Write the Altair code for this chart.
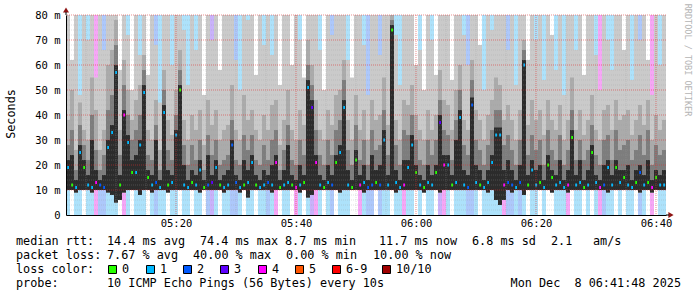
import altair as alt
import pandas as pd

# ---- data: one entry per 40 s column, 05:01:40 .. 06:41:40 ----
med = [19, 12, 11, 25, 19, 12, 11, 13, 12, 11,
       27, 33, 57, 12, 40, 29, 17, 17, 28, 49,
       15, 12, 13, 11, 41, 12, 13, 32, 50, 12,
       11, 13, 12, 18, 11, 12, 13, 19, 12, 11,
       12, 28, 13, 11, 12, 13, 21, 12, 11, 12,
       13, 12, 21, 11, 12, 13, 12, 11, 12, 13,
       51, 43, 21, 12, 11, 13, 12, 21, 25, 43,
       12, 11, 22, 12, 13, 11, 12, 13, 12, 30,
       12, 74, 13, 11, 12, 19, 28, 17, 12, 11,
       13, 12, 17, 37, 20, 20, 12, 13, 39, 12,
       11, 44, 13, 12, 11, 13, 21, 32, 32, 12,
       13, 12, 11, 13, 60, 12, 18, 12, 13, 11,
       20, 15, 12, 13, 11, 12, 31, 12, 13, 11,
       12, 25, 13, 11, 12, 19, 12, 19, 13, 15,
       12, 11, 13, 17, 12, 13, 11, 15, 12, 12]

loss = [1, 0, 1, 1, 0, 1, 1, 4, 2, 2,
        1, 1, 1, 0, 4, 1, 0, 1, 1, 1,
        0, 1, 2, 1, 1, 0, 1, 1, 0, 1,
        1, 0, 1, 1, 0, 2, 3, 1, 0, 1,
        1, 2, 2, 1, 0, 1, 1, 0, 1, 1,
        2, 1, 4, 0, 1, 1, 0, 4, 1, 0,
        1, 3, 4, 1, 0, 1, 2, 0, 1, 1,
        1, 0, 0, 4, 1, 2, 2, 0, 2, 1,
        1, 0, 1, 1, 4, 1, 1, 0, 1, 0,
        1, 1, 0, 3, 4, 1, 0, 1, 1, 1,
        2, 2, 1, 0, 1, 1, 1, 1, 1, 4,
        2, 2, 1, 2, 1, 0, 1, 1, 0, 1,
        0, 0, 1, 1, 1, 4, 0, 1, 1, 0,
        1, 0, 1, 4, 2, 1, 1, 0, 1, 0,
        1, 1, 0, 2, 1, 0, 4, 0, 1, 1]

lo = [10, 10, 9, 10, 10, 10, 9, 10, 10, 10,
      9, 8, 5, 6, 9, 10, 10, 10, 8, 10,
      10, 9, 10, 10, 10, 9, 10, 10, 10, 10,
      10, 10, 10, 9, 10, 10, 10, 10, 10, 9,
      10, 10, 10, 9, 10, 7, 10, 10, 10, 10,
      10, 9, 10, 10, 10, 10, 10, 10, 9, 10,
      7, 8, 10, 10, 10, 10, 10, 10, 9, 10,
      10, 10, 10, 10, 9, 10, 10, 10, 10, 10,
      10, 10, 9, 10, 10, 10, 10, 10, 10, 9,
      10, 10, 10, 9, 10, 10, 10, 10, 10, 10,
      10, 10, 10, 10, 10, 9, 10, 6, 4, 6,
      10, 9, 10, 10, 8, 10, 10, 10, 10, 10,
      10, 9, 10, 10, 10, 9, 10, 10, 10, 10,
      10, 10, 10, 10, 10, 9, 10, 10, 10, 10,
      10, 10, 10, 9, 10, 10, 9, 10, 10, 10]

dark = [22, 24, 14, 28, 22, 16, 30, 18, 14, 16,
        30, 36, 60, 16, 42, 32, 22, 24, 30, 52,
        18, 16, 30, 14, 44, 18, 16, 34, 52, 20,
        14, 18, 16, 22, 14, 24, 16, 22, 14, 16,
        18, 30, 16, 14, 22, 18, 24, 16, 14, 18,
        16, 20, 24, 14, 18, 28, 16, 14, 20, 16,
        54, 46, 24, 16, 14, 20, 16, 24, 28, 46,
        18, 14, 26, 16, 20, 14, 24, 18, 20, 34,
        16, 76, 18, 14, 22, 22, 32, 20, 16, 14,
        20, 16, 20, 40, 24, 24, 16, 30, 42, 18,
        16, 47, 20, 18, 14, 18, 24, 35, 35, 18,
        22, 18, 14, 20, 62, 16, 22, 18, 20, 14,
        24, 18, 16, 22, 14, 18, 34, 16, 22, 14,
        18, 28, 16, 14, 20, 22, 16, 22, 18, 18,
        20, 14, 18, 20, 16, 22, 14, 18, 16, 18]

mid2 = [28, 34, 18, 36, 28, 22, 40, 26, 18, 24,
        42, 48, 68, 24, 52, 40, 30, 34, 40, 58,
        24, 22, 36, 18, 50, 26, 22, 40, 58, 28,
        20, 28, 22, 30, 18, 32, 24, 30, 20, 22,
        24, 38, 22, 20, 32, 26, 32, 22, 20, 28,
        22, 30, 34, 18, 26, 36, 22, 20, 30, 24,
        60, 52, 34, 24, 20, 30, 24, 34, 38, 54,
        26, 20, 36, 22, 30, 20, 34, 26, 28, 42,
        24, 78, 28, 20, 34, 32, 40, 30, 22, 20,
        30, 24, 30, 46, 34, 32, 22, 38, 50, 28,
        24, 54, 30, 26, 20, 28, 34, 42, 42, 28,
        32, 26, 20, 30, 66, 24, 32, 26, 30, 20,
        34, 26, 22, 32, 20, 26, 42, 22, 30, 22,
        26, 36, 24, 20, 30, 32, 22, 34, 26, 28,
        30, 22, 26, 32, 24, 34, 20, 28, 24, 26]

mid = [38, 50, 26, 45, 34, 30, 55, 42, 26, 34,
       60, 66, 78, 34, 62, 50, 38, 46, 52, 64,
       34, 30, 46, 26, 58, 38, 32, 50, 66, 38,
       30, 40, 34, 42, 28, 46, 36, 42, 30, 34,
       36, 52, 34, 30, 48, 38, 42, 34, 30, 40,
       34, 44, 46, 28, 38, 50, 34, 30, 42, 36,
       70, 60, 46, 34, 30, 42, 36, 48, 50, 62,
       38, 30, 48, 34, 42, 30, 46, 38, 40, 55,
       36, 80, 38, 30, 46, 44, 52, 40, 34, 30,
       42, 34, 40, 58, 46, 44, 34, 50, 60, 38,
       34, 62, 42, 38, 30, 40, 46, 55, 52, 38,
       44, 38, 30, 42, 70, 36, 46, 38, 42, 32,
       46, 38, 34, 44, 30, 38, 55, 34, 42, 32,
       38, 48, 34, 30, 42, 44, 34, 46, 38, 40,
       42, 32, 38, 44, 36, 46, 30, 40, 34, 38]

high = [90, 62, 90, 48, 90, 70, 90, 55, 90, 66,
        90, 90, 90, 58, 90, 72, 50, 90, 64, 90,
        56, 90, 68, 45, 90, 90, 60, 90, 90, 74,
        52, 90, 66, 90, 48, 90, 70, 90, 58, 90,
        90, 90, 62, 50, 90, 78, 90, 56, 90, 68,
        90, 64, 90, 52, 90, 90, 60, 90, 70, 55,
        90, 90, 90, 66, 50, 90, 72, 90, 90, 90,
        62, 55, 90, 90, 68, 48, 90, 90, 64, 90,
        90, 90, 72, 52, 90, 90, 90, 60, 66, 50,
        90, 70, 56, 90, 90, 90, 54, 90, 90, 72,
        60, 90, 90, 68, 50, 90, 74, 90, 90, 90,
        66, 90, 52, 90, 90, 62, 90, 70, 90, 54,
        90, 72, 58, 90, 48, 90, 90, 66, 90, 56,
        90, 90, 64, 50, 90, 70, 58, 90, 90, 66,
        90, 54, 90, 70, 90, 62, 48, 90, 60, 90]

loss_levels = [0, 1, 2, 3, 4]
loss_colors = ["#26ff00", "#00b8ff", "#0059ff", "#5e00ff", "#ff00ff"]
loss_bg = ["#ffffff", "#ade2fb", "#adc8fb", "#c9b2fb", "#f6a6f6"]

legend_labels = ["0", "1", "2", "3", "4", "5", "6-9", "10/10"]
legend_colors = ["#26ff00", "#00b8ff", "#0059ff", "#5e00ff", "#ff00ff", "#ff5500", "#ff0000", "#a00000"]
legend_box_x = [108, 146, 183, 220, 258, 295, 332, 382]

y_ticks = [0, 10, 20, 30, 40, 50, 60, 70, 80]
x_ticks = [20, 40, 60, 80, 100]  # minutes after 05:00

MONO = "DejaVu Sans Mono"
STEP = 40 / 60
START = 100 / 60

rows = []
for i in range(len(med)):
    t = START + i * STEP
    rows.append({"t": t, "t2": t + STEP, "tm1": t + STEP * 0.3, "tm2": t + STEP * 0.75,
                 "loss": loss[i], "med": med[i], "mlo": med[i] - 0.6, "mhi": med[i] + 0.6,
                 "lo": lo[i], "dark": dark[i], "mid2": mid2[i], "mid": mid[i], "high": high[i],
                 "zero": 0, "top": 80})
df = pd.DataFrame(rows)

XS = alt.Scale(domain=[START, START + 100], nice=False, zero=False)
YS = alt.Scale(domain=[0, 80], nice=False, clamp=True)

x_axis = alt.Axis(values=x_ticks, title=None, grid=False, ticks=False, tickSize=0,
                  labelExpr="(datum.value < 60 ? '05:' : '06:') + ((datum.value % 60) < 10 ? '0' : '') + (datum.value % 60)",
                  labelFont=MONO, labelFontSize=10.5, labelColor="#000", labelPadding=11,
                  labelBaseline="alphabetic", domainColor="#000", labelFlush=False, zindex=2)
y_axis = alt.Axis(values=y_ticks, title=None, grid=False, ticks=False, tickSize=0,
                  labelExpr="datum.value == 0 ? '0\u00a0\u00a0' : datum.value + ' m'",
                  labelFont=MONO, labelFontSize=10.5, labelColor="#000", labelPadding=6,
                  domainColor="#000", labelFlush=False, zindex=2)

base = alt.Chart(df)
bg = base.mark_rect().encode(
    x=alt.X("t:Q", scale=XS, axis=x_axis), x2="t2",
    y=alt.Y("zero:Q", scale=YS, axis=y_axis), y2="top",
    color=alt.Color("loss:N", scale=alt.Scale(domain=loss_levels, range=loss_bg), legend=None))

def smoke(field, col):
    return base.mark_rect(color=col).encode(
        x=alt.X("t:Q", scale=XS, axis=x_axis), x2="t2",
        y=alt.Y("lo:Q", scale=YS, axis=y_axis), y2=field)

s_high = smoke("high", "#cacaca")
s_mid = smoke("mid", "#ababab")
s_mid2 = smoke("mid2", "#7d7d7d")
s_dark = smoke("dark", "#2c2c2c")

medm = base.mark_rect().encode(
    x=alt.X("tm1:Q", scale=XS, axis=x_axis), x2="tm2",
    y=alt.Y("mlo:Q", scale=YS, axis=y_axis), y2="mhi",
    color=alt.Color("loss:N", scale=alt.Scale(domain=loss_levels, range=loss_colors), legend=None))

minor_h = [v for v in range(2, 80, 2) if v % 10]
major_h = [10, 20, 30, 40, 50, 60, 70, 80]
minor_v = [v for v in range(5, 105, 5) if v % 20]
major_v = [20, 40, 60, 80, 100]

def hgrid(vals, col, op):
    return alt.Chart(pd.DataFrame({"v": vals})).mark_rule(color=col, opacity=op, strokeDash=[1, 1], strokeWidth=1).encode(
        y=alt.Y("v:Q", scale=YS, axis=y_axis))

def vgrid(vals, col, op):
    return alt.Chart(pd.DataFrame({"v": vals})).mark_rule(color=col, opacity=op, strokeDash=[1, 1], strokeWidth=1).encode(
        x=alt.X("v:Q", scale=XS, axis=x_axis))

grids = [hgrid(minor_h, "#9a9a9a", 0.3), vgrid(minor_v, "#9a9a9a", 0.3),
         hgrid(major_h, "#e03030", 0.55), vgrid(major_v, "#e03030", 0.55)]

one = pd.DataFrame({"k": [0]})

def label(txt, x, y, align="left", baseline="alphabetic", size=11.8, color="#000", angle=0):
    return alt.Chart(one).mark_text(align=align, baseline=baseline, font=MONO, fontSize=size,
                                    color=color, angle=angle).encode(
        x=alt.value(x - 66), y=alt.value(y - 15), text=alt.value(txt))

texts = [
    label("median rtt:", 16, 245), label("14.4 ms avg", 107, 245), label("74.4 ms max", 200, 245),
    label("8.7 ms min", 285, 245), label("11.7 ms now", 379, 245), label("6.8 ms sd", 472, 245),
    label("2.1", 551, 245), label("am/s", 593, 245),
    label("packet loss:", 16, 259), label("7.67 % avg", 107, 259), label("40.00 % max", 193, 259),
    label("0.00 % min", 286, 259), label("10.00 % now", 373, 259),
    label("loss color:", 16, 273),
    label("probe:", 16, 287), label("10 ICMP Echo Pings (56 Bytes) every 10s", 107, 287),
    label("Mon Dec\u00a0\u00a08 06:41:48 2025", 681, 287, align="right"),
    label("Seconds", 11, 114, align="center", baseline="middle", angle=270),
    label("RRDTOOL / TOBI OETIKER", 688, 60, align="center", baseline="middle", size=8.5,
          color="#b4b4b4", angle=90),
]
boxes = []
for bx, bl, bc in zip(legend_box_x, legend_labels, legend_colors):
    boxes.append(alt.Chart(one).mark_rect(fill=bc, stroke="#000", strokeWidth=1).encode(
        x=alt.value(bx - 66 + 0.5), x2=alt.value(bx - 66 + 8.5),
        y=alt.value(265 - 15 + 0.5), y2=alt.value(273 - 15 + 0.5)))
    texts.append(label(bl, bx + 14, 273))

arrows = [
    alt.Chart(one).mark_point(shape="triangle-up", filled=True, size=36, color="#8e1515", opacity=1).encode(
        x=alt.value(0), y=alt.value(-5)),
    alt.Chart(one).mark_point(shape="triangle-right", filled=True, size=36, color="#8e1515", opacity=1).encode(
        x=alt.value(605), y=alt.value(200)),
    alt.Chart(one).mark_rule(color="#000").encode(x=alt.value(600), x2=alt.value(603), y=alt.value(200)),
    alt.Chart(one).mark_rule(color="#000").encode(x=alt.value(0), y=alt.value(-3), y2=alt.value(0)),
]

chart = alt.layer(bg, s_high, s_mid, s_mid2, s_dark, medm, *grids, *boxes, *texts, *arrows).resolve_scale(
    color="independent").properties(
    width=600, height=200,
    padding={"left": 66, "top": 15, "right": 31, "bottom": 82},
    autosize=alt.AutoSizeParams(type="none"),
    background="white",
).configure_view(stroke=None)

chart.save("out.html", embed_options={"renderer": "svg", "actions": False})
